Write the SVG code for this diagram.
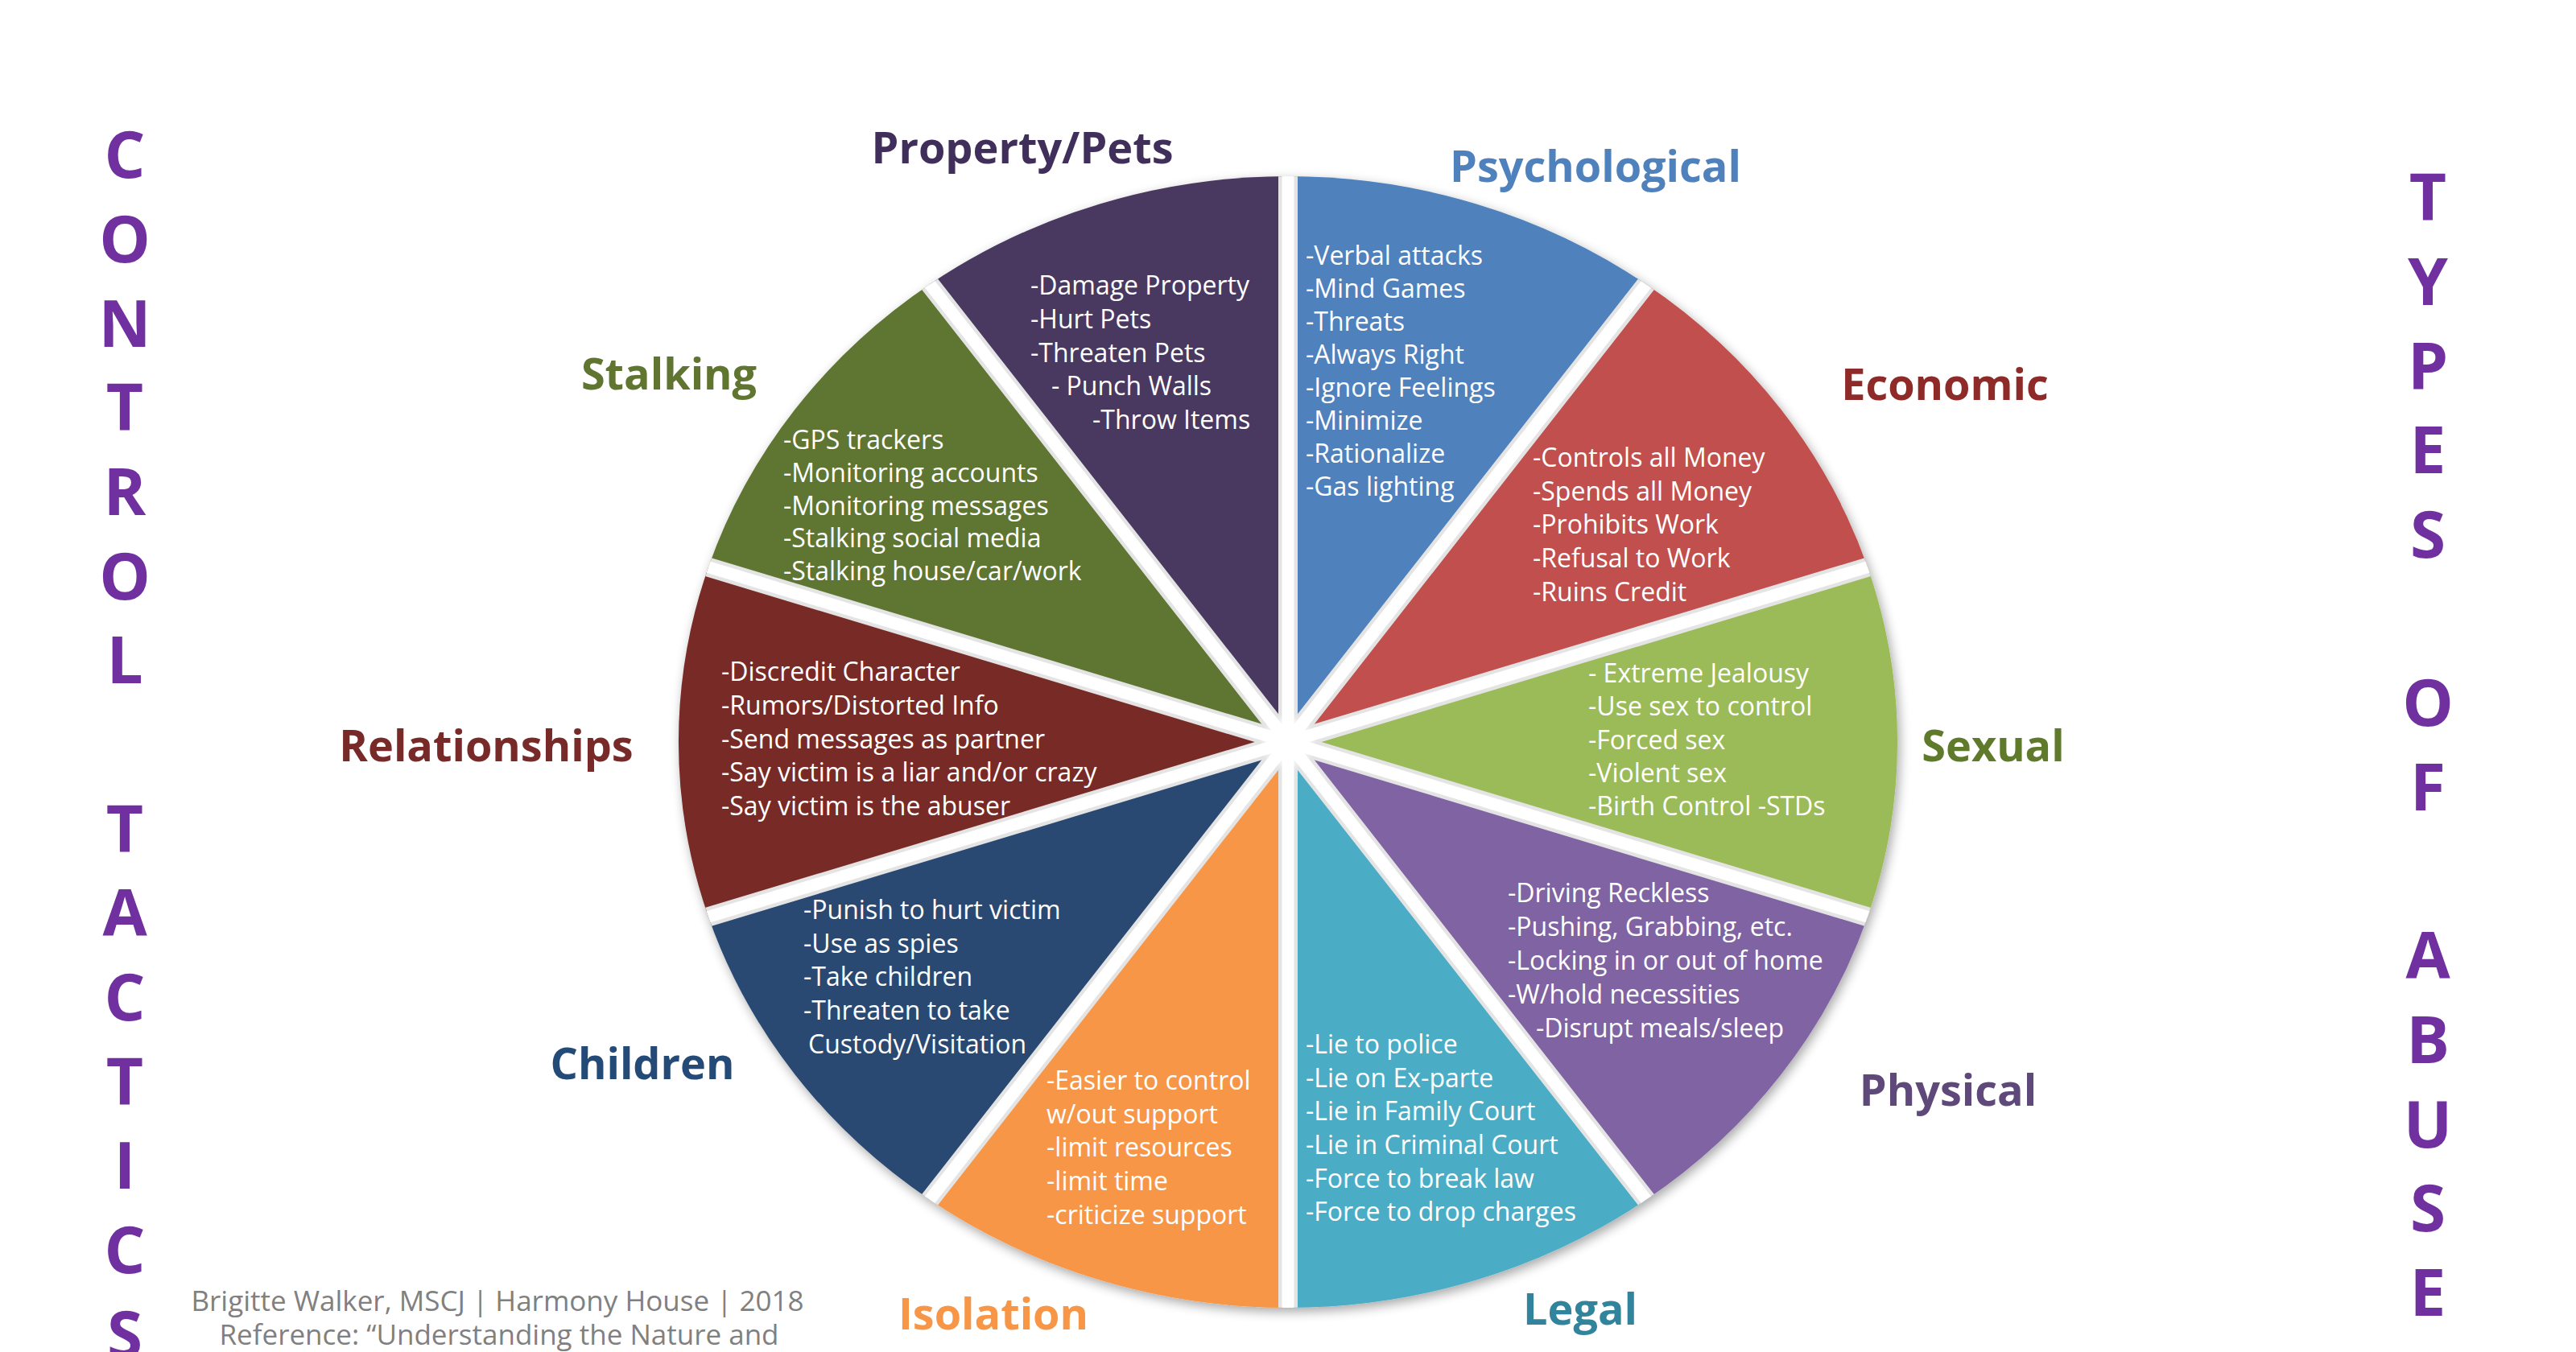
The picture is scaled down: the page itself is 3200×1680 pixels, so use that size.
<svg xmlns="http://www.w3.org/2000/svg" width="3200" height="1680" viewBox="0 0 3200 1680">
<style>
.t{font-family:"Open Sans","Liberation Sans",sans-serif;font-weight:700;font-size:54px;text-anchor:middle}
.l{font-family:"Open Sans","Liberation Sans",sans-serif;font-size:32px;fill:#ffffff}
.side{font-family:"Open Sans","Liberation Sans",sans-serif;font-weight:700;font-size:80px;fill:#7030a0;text-anchor:middle}
.foot{font-family:"Open Sans","Liberation Sans",sans-serif;font-size:35px;fill:#808080;text-anchor:middle}
.sepE{stroke:#e4e4e4;stroke-width:24;stroke-linecap:round}
.sepW{stroke:#ffffff;stroke-width:15;stroke-linecap:round}
</style>
<defs>
<filter id="sh" x="-10%" y="-10%" width="120%" height="120%">
<feGaussianBlur in="SourceAlpha" stdDeviation="7"/>
<feOffset dx="3" dy="5" result="b"/>
<feComponentTransfer><feFuncA type="linear" slope="0.35"/></feComponentTransfer>
<feMerge><feMergeNode/><feMergeNode in="SourceGraphic"/></feMerge>
</filter>
<clipPath id="pieClip"><ellipse cx="1600" cy="922" rx="757" ry="703"/></clipPath>
<radialGradient id="hub"><stop offset="0.55" stop-color="#ffffff"/><stop offset="1" stop-color="#ffffff" stop-opacity="0"/></radialGradient>
</defs>
<rect width="3200" height="1680" fill="#ffffff"/>

<g id="pie" filter="url(#sh)">
<path id="slice-psychological" d="M1600,922 L1600,219 A757,703 0 0 1 2045,353.3 Z" fill="#4f81bd"/>
<path id="slice-economic" d="M1600,922 L2045,353.3 A757,703 0 0 1 2320,704.8 Z" fill="#c0504d"/>
<path id="slice-sexual" d="M1600,922 L2320,704.8 A757,703 0 0 1 2320,1139.2 Z" fill="#9bbb59"/>
<path id="slice-physical" d="M1600,922 L2320,1139.2 A757,703 0 0 1 2045,1490.7 Z" fill="#8064a2"/>
<path id="slice-legal" d="M1600,922 L2045,1490.7 A757,703 0 0 1 1600,1625 Z" fill="#4bacc6"/>
<path id="slice-isolation" d="M1600,922 L1600,1625 A757,703 0 0 1 1155,1490.7 Z" fill="#f79646"/>
<path id="slice-children" d="M1600,922 L1155,1490.7 A757,703 0 0 1 880,1139.2 Z" fill="#2b4a72"/>
<path id="slice-relationships" d="M1600,922 L880,1139.2 A757,703 0 0 1 880,704.8 Z" fill="#772a28"/>
<path id="slice-stalking" d="M1600,922 L880,704.8 A757,703 0 0 1 1155,353.3 Z" fill="#5f7530"/>
<path id="slice-property" d="M1600,922 L1155,353.3 A757,703 0 0 1 1600,219 Z" fill="#4a3760"/>
</g>

<g id="connectors" clip-path="url(#pieClip)">
<g class="sepE">
<line x1="1600" y1="922" x2="1600" y2="191"/>
<line x1="1600" y1="922" x2="2062.6" y2="330.6"/>
<line x1="1600" y1="922" x2="2348.5" y2="696.1"/>
<line x1="1600" y1="922" x2="2348.5" y2="1147.9"/>
<line x1="1600" y1="922" x2="2062.6" y2="1513.4"/>
<line x1="1600" y1="922" x2="1600" y2="1653"/>
<line x1="1600" y1="922" x2="1137.4" y2="1513.4"/>
<line x1="1600" y1="922" x2="851.5" y2="1147.9"/>
<line x1="1600" y1="922" x2="851.5" y2="696.1"/>
<line x1="1600" y1="922" x2="1137.4" y2="330.6"/>
</g>
<g class="sepW">
<line x1="1600" y1="922" x2="1600" y2="191"/>
<line x1="1600" y1="922" x2="2062.6" y2="330.6"/>
<line x1="1600" y1="922" x2="2348.5" y2="696.1"/>
<line x1="1600" y1="922" x2="2348.5" y2="1147.9"/>
<line x1="1600" y1="922" x2="2062.6" y2="1513.4"/>
<line x1="1600" y1="922" x2="1600" y2="1653"/>
<line x1="1600" y1="922" x2="1137.4" y2="1513.4"/>
<line x1="1600" y1="922" x2="851.5" y2="1147.9"/>
<line x1="1600" y1="922" x2="851.5" y2="696.1"/>
<line x1="1600" y1="922" x2="1137.4" y2="330.6"/>
</g>
<circle cx="1600" cy="922" r="36" fill="url(#hub)"/>
</g>

<g id="node-property">
<text class="t" x="1270" y="203" fill="#3f2f5a">Property/Pets</text>
<text class="l" x="1280" y="366">-Damage Property</text>
<text class="l" x="1280" y="408">-Hurt Pets</text>
<text class="l" x="1280" y="450">-Threaten Pets</text>
<text class="l" x="1306" y="491">- Punch Walls</text>
<text class="l" x="1357" y="533">-Throw Items</text>
</g>

<g id="node-psychological">
<text class="t" x="1982" y="226" fill="#4f81bd">Psychological</text>
<text class="l" x="1622" y="329">-Verbal attacks</text>
<text class="l" x="1622" y="370">-Mind Games</text>
<text class="l" x="1622" y="411">-Threats</text>
<text class="l" x="1622" y="452">-Always Right</text>
<text class="l" x="1622" y="493">-Ignore Feelings</text>
<text class="l" x="1622" y="534">-Minimize</text>
<text class="l" x="1622" y="575">-Rationalize</text>
<text class="l" x="1622" y="616">-Gas lighting</text>
</g>

<g id="node-economic">
<text class="t" x="2416" y="497" fill="#8e2b29">Economic</text>
<text class="l" x="1904" y="580">-Controls all Money</text>
<text class="l" x="1904" y="622">-Spends all Money</text>
<text class="l" x="1904" y="663">-Prohibits Work</text>
<text class="l" x="1904" y="705">-Refusal to Work</text>
<text class="l" x="1904" y="747">-Ruins Credit</text>
</g>

<g id="node-sexual">
<text class="t" x="2476" y="946" fill="#5f7a2a">Sexual</text>
<text class="l" x="1973" y="848">- Extreme Jealousy</text>
<text class="l" x="1973" y="889">-Use sex to control</text>
<text class="l" x="1973" y="931">-Forced sex</text>
<text class="l" x="1973" y="972">-Violent sex</text>
<text class="l" x="1973" y="1013">-Birth Control -STDs</text>
</g>

<g id="node-physical">
<text class="t" x="2420" y="1374" fill="#5f497a">Physical</text>
<text class="l" x="1873" y="1121">-Driving Reckless</text>
<text class="l" x="1873" y="1163">-Pushing, Grabbing, etc.</text>
<text class="l" x="1873" y="1205">-Locking in or out of home</text>
<text class="l" x="1873" y="1247">-W/hold necessities</text>
<text class="l" x="1908" y="1289">-Disrupt meals/sleep</text>
</g>

<g id="node-legal">
<text class="t" x="1963" y="1646" fill="#31849b">Legal</text>
<text class="l" x="1622" y="1309">-Lie to police</text>
<text class="l" x="1622" y="1351">-Lie on Ex-parte</text>
<text class="l" x="1622" y="1392">-Lie in Family Court</text>
<text class="l" x="1622" y="1434">-Lie in Criminal Court</text>
<text class="l" x="1622" y="1476">-Force to break law</text>
<text class="l" x="1622" y="1517">-Force to drop charges</text>
</g>

<g id="node-isolation">
<text class="t" x="1234" y="1652" fill="#f79646">Isolation</text>
<text class="l" x="1300" y="1354">-Easier to control</text>
<text class="l" x="1300" y="1396">w/out support</text>
<text class="l" x="1300" y="1437">-limit resources</text>
<text class="l" x="1300" y="1479">-limit time</text>
<text class="l" x="1300" y="1521">-criticize support</text>
</g>

<g id="node-children">
<text class="t" x="798" y="1341" fill="#244a78">Children</text>
<text class="l" x="998" y="1142">-Punish to hurt victim</text>
<text class="l" x="998" y="1184">-Use as spies</text>
<text class="l" x="998" y="1225">-Take children</text>
<text class="l" x="998" y="1267">-Threaten to take</text>
<text class="l" x="1004" y="1309">Custody/Visitation</text>
</g>

<g id="node-relationships">
<text class="t" x="604" y="946" fill="#772a28">Relationships</text>
<text class="l" x="896" y="846">-Discredit Character</text>
<text class="l" x="896" y="888">-Rumors/Distorted Info</text>
<text class="l" x="896" y="930">-Send messages as partner</text>
<text class="l" x="896" y="971">-Say victim is a liar and/or crazy</text>
<text class="l" x="896" y="1013">-Say victim is the abuser</text>
</g>

<g id="node-stalking">
<text class="t" x="831" y="484" fill="#5f7530">Stalking</text>
<text class="l" x="973" y="558">-GPS trackers</text>
<text class="l" x="973" y="599">-Monitoring accounts</text>
<text class="l" x="973" y="640">-Monitoring messages</text>
<text class="l" x="973" y="680">-Stalking social media</text>
<text class="l" x="973" y="721">-Stalking house/car/work</text>
</g>

<g id="side-left">
<text class="side" x="155" y="221">C</text>
<text class="side" x="155" y="326">O</text>
<text class="side" x="155" y="431">N</text>
<text class="side" x="155" y="535">T</text>
<text class="side" x="155" y="640">R</text>
<text class="side" x="155" y="745">O</text>
<text class="side" x="155" y="849">L</text>
<text class="side" x="155" y="1059">T</text>
<text class="side" x="155" y="1163">A</text>
<text class="side" x="155" y="1268">C</text>
<text class="side" x="155" y="1373">T</text>
<text class="side" x="155" y="1477">I</text>
<text class="side" x="155" y="1582">C</text>
<text class="side" x="155" y="1687">S</text>
</g>

<g id="side-right">
<text class="side" x="3016" y="274">T</text>
<text class="side" x="3016" y="379">Y</text>
<text class="side" x="3016" y="484">P</text>
<text class="side" x="3016" y="588">E</text>
<text class="side" x="3016" y="693">S</text>
<text class="side" x="3016" y="902">O</text>
<text class="side" x="3016" y="1007">F</text>
<text class="side" x="3016" y="1216">A</text>
<text class="side" x="3016" y="1321">B</text>
<text class="side" x="3016" y="1426">U</text>
<text class="side" x="3016" y="1530">S</text>
<text class="side" x="3016" y="1635">E</text>
</g>

<g id="footer">
<text class="foot" x="618" y="1629">Brigitte Walker, MSCJ | Harmony House | 2018</text>
<text class="foot" x="620" y="1671">Reference: “Understanding the Nature and</text>
</g>
</svg>
